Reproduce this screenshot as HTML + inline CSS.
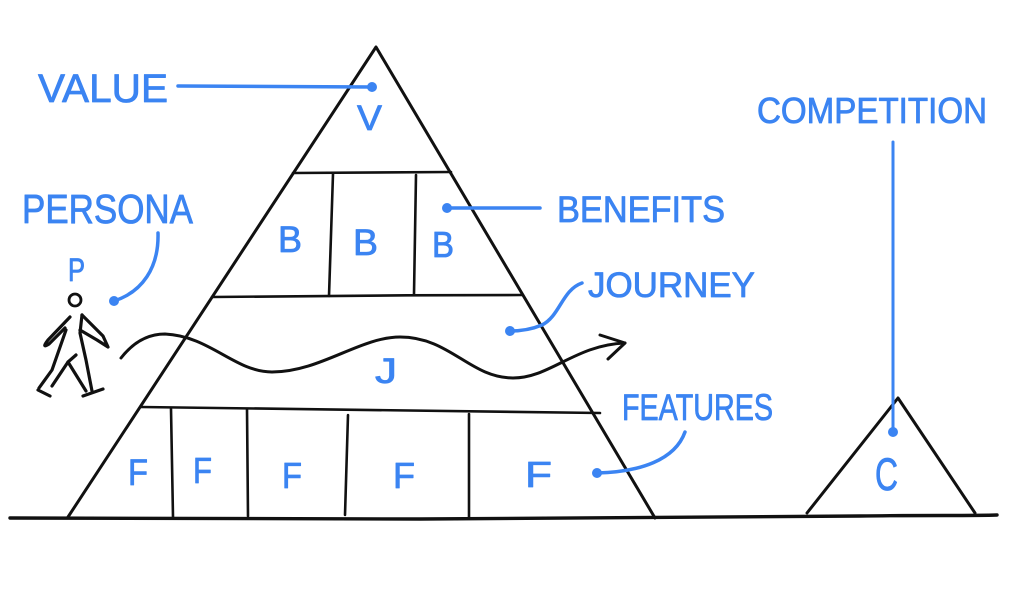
<!DOCTYPE html>
<html>
<head>
<meta charset="utf-8">
<style>
  html,body{margin:0;padding:0;background:#fff;}
  svg{display:block;}
  .t{font-family:"Liberation Sans",sans-serif;fill:#3b84f2;stroke:#3b84f2;stroke-width:0.8;stroke-linejoin:round;}
  .k{fill:none;stroke:#111;stroke-width:3;stroke-linecap:round;stroke-linejoin:round;}
  .kt{fill:none;stroke:#111;stroke-width:2.6;stroke-linecap:round;stroke-linejoin:round;}
  .kp{fill:none;stroke:#111;stroke-width:3.2;stroke-linecap:round;stroke-linejoin:round;}
  .b{fill:none;stroke:#3b84f2;stroke-width:3.5;stroke-linecap:round;stroke-linejoin:round;}
</style>
</head>
<body>
<svg width="1024" height="590" viewBox="0 0 1024 590" xmlns="http://www.w3.org/2000/svg">
  <rect width="1024" height="590" fill="#fff"/>

  <!-- ground line -->
  <path class="k" style="stroke-width:3.4" d="M10,518 C120,517 250,519 420,519 C600,519 750,516 860,516 C930,515 970,516 997,515"/>

  <!-- main pyramid -->
  <path class="k" d="M68,517 L376,47 L655,518"/>
  <!-- dividers -->
  <path class="kt" d="M293,173 L451,172"/>
  <path class="kt" d="M212,297 C300,296 420,295 522,295"/>
  <path class="kt" d="M141,407 C300,408 450,411 600,413"/>
  <!-- benefit verticals -->
  <path class="kt" d="M333,174 L329,296"/>
  <path class="kt" d="M416,175 L414,294"/>
  <!-- feature verticals -->
  <path class="kt" d="M171,409 L173,517"/>
  <path class="kt" d="M247,409 L248,516"/>
  <path class="kt" d="M348,415 L345,515"/>
  <path class="kt" d="M469,414 L469,517"/>

  <!-- small competition triangle -->
  <path class="k" d="M807,513 L898,398 L975,513"/>

  <!-- journey wave -->
  <path class="k" d="M121,358 C135,340 150,334 165,334 C210,336 235,372 272,372 C320,372 360,337 400,337 C450,337 470,378 513,378 C550,378 575,345 625,343"/>
  <path class="k" d="M600,335 L625,343 L608,359"/>

  <!-- person -->
  <circle cx="75" cy="300" r="6" fill="none" stroke="#111" stroke-width="2.8"/>
  <path class="kp" d="M70,317 L48,340 Q41,349 49,344 L65,328"/>
  <path class="kp" d="M66,330 L52,370 L39,388"/>
  <path class="kp" d="M38,390 L50,396"/>
  <path class="kp" d="M52,386 L68,362 L76,355"/>
  <path class="kp" d="M68,362 L86,391"/>
  <path class="kp" d="M82,315 L80,333 L86,360 L92,391"/>
  <path class="kp" d="M83,396 L103,389"/>
  <path class="kp" d="M82,315 L103,336 L108,347 L97,340 L80,330"/>

  <!-- blue connectors -->
  <path class="b" d="M178,86 L372,87"/>
  <circle cx="372" cy="87" r="5" fill="#3b84f2"/>

  <path class="b" d="M447,208 L540,208"/>
  <circle cx="447" cy="208" r="5" fill="#3b84f2"/>

  <path class="b" d="M158,233 C159,268 142,292 114,301"/>
  <circle cx="114" cy="301" r="5" fill="#3b84f2"/>

  <path class="b" d="M582,283 C562,290 560,316 542,325 C530,330 520,331 510,331"/>
  <circle cx="510" cy="331" r="5" fill="#3b84f2"/>

  <path class="b" d="M685,432 C675,460 640,472 597,473"/>
  <circle cx="597" cy="473" r="5" fill="#3b84f2"/>

  <path class="b" d="M893,142 L893,432" style="stroke-width:3"/>
  <circle cx="893" cy="432" r="5" fill="#3b84f2"/>

  <!-- labels -->
  <text class="t" x="38" y="102" font-size="40" textLength="130" lengthAdjust="spacingAndGlyphs">VALUE</text>
  <text class="t" x="22" y="223" font-size="41" textLength="171" lengthAdjust="spacingAndGlyphs">PERSONA</text>
  <text class="t" x="757" y="123" font-size="36" textLength="230" lengthAdjust="spacingAndGlyphs">COMPETITION</text>
  <text class="t" x="557" y="222" font-size="37" textLength="168" lengthAdjust="spacingAndGlyphs">BENEFITS</text>
  <text class="t" x="588" y="297" font-size="35" textLength="167" lengthAdjust="spacingAndGlyphs">JOURNEY</text>
  <text class="t" x="622" y="420" font-size="37" textLength="151" lengthAdjust="spacingAndGlyphs">FEATURES</text>

  <text class="t" x="357" y="130" font-size="35" textLength="25" lengthAdjust="spacingAndGlyphs">V</text>
  <text class="t" x="278" y="252" font-size="37" textLength="24" lengthAdjust="spacingAndGlyphs">B</text>
  <text class="t" x="353" y="255" font-size="37" textLength="25" lengthAdjust="spacingAndGlyphs">B</text>
  <text class="t" x="432" y="257" font-size="36" textLength="22" lengthAdjust="spacingAndGlyphs">B</text>
  <text class="t" x="68" y="281" font-size="32" textLength="17" lengthAdjust="spacingAndGlyphs">P</text>
  <text class="t" x="375" y="383" font-size="35" textLength="22" lengthAdjust="spacingAndGlyphs">J</text>
  <text class="t" x="128" y="485" font-size="37" textLength="20" lengthAdjust="spacingAndGlyphs">F</text>
  <text class="t" x="193" y="483" font-size="36" textLength="19" lengthAdjust="spacingAndGlyphs">F</text>
  <text class="t" x="282" y="488" font-size="36" textLength="20" lengthAdjust="spacingAndGlyphs">F</text>
  <text class="t" x="393" y="488" font-size="36" textLength="22" lengthAdjust="spacingAndGlyphs">F</text>
  <text class="t" x="525" y="487" font-size="36" textLength="27" lengthAdjust="spacingAndGlyphs">F</text>
  <text class="t" x="875" y="490" font-size="45" textLength="23" lengthAdjust="spacingAndGlyphs">C</text>
</svg>
</body>
</html>
